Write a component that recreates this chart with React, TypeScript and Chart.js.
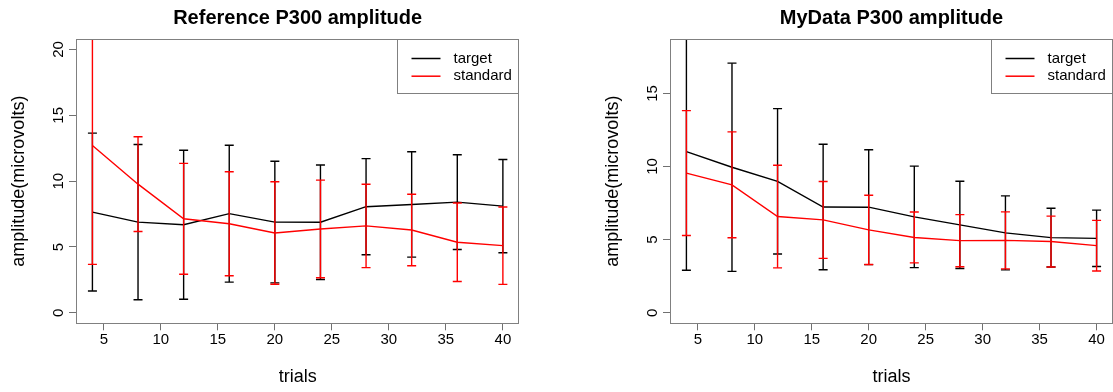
import React, { useEffect, useRef } from 'react';
import { Chart, registerables } from 'chart.js';

Chart.register(...registerables);

const FONT = "'Liberation Sans', Arial, Helvetica, sans-serif";

// shared x values and ticks
const trials = [4, 8, 12, 16, 20, 24, 28, 32, 36, 40];
const xTickValues = [5, 10, 15, 20, 25, 30, 35, 40];
const xLimits = [4, 40];

// Reference panel
const refTitle = 'Reference P300 amplitude';
const refYLimits = [0, 20];
const refYTicks = [0, 5, 10, 15, 20];
const refTargetMean = [7.65, 6.89, 6.69, 7.53, 6.89, 6.88, 8.06, 8.23, 8.41, 8.1];
const refTargetErr = [6.0, 5.9, 5.66, 5.2, 4.62, 4.35, 3.65, 4.0, 3.6, 3.54];
const refStandardMean = [12.71, 9.77, 7.14, 6.76, 6.06, 6.37, 6.6, 6.29, 5.36, 5.1];
const refStandardErr = [9.03, 3.6, 4.21, 3.95, 3.89, 3.71, 3.17, 2.72, 2.98, 2.94];

// MyData panel
const myTitle = 'MyData P300 amplitude';
const myYLimits = [0, 18];
const myYTicks = [0, 5, 10, 15];
const myTargetMean = [11.02, 9.95, 8.99, 7.23, 7.22, 6.56, 6.01, 5.46, 5.14, 5.09];
const myTargetErr = [8.11, 7.12, 4.97, 4.29, 3.93, 3.47, 2.98, 2.53, 2.01, 1.93];
const myStandardMean = [9.55, 8.75, 6.58, 6.35, 5.67, 5.15, 4.93, 4.95, 4.87, 4.59];
const myStandardErr = [4.27, 3.62, 3.51, 2.63, 2.37, 1.74, 1.78, 1.95, 1.74, 1.73];

const seriesNames = ['target', 'standard'];
const seriesColors = ['#000000', '#ff0000'];

function extend(lim: number[]) {
  const d = (lim[1] - lim[0]) * 0.04;
  return [lim[0] - d, lim[1] + d];
}

function meanPoints(means: number[]) {
  return trials.map((x, i) => ({ x, y: means[i] }));
}

function errorPoints(means: number[], errs: number[]) {
  const pts: any[] = [];
  trials.forEach((x, i) => {
    pts.push({ x, y: means[i] - errs[i] });
    pts.push({ x, y: means[i] + errs[i] });
    pts.push({ x, y: null });
  });
  return pts;
}

const boxPlugin = {
  id: 'rbox',
  afterDraw(chart: any) {
    const { ctx, chartArea: a } = chart;
    ctx.save();
    ctx.strokeStyle = '#808080';
    ctx.lineWidth = 1;
    ctx.strokeRect(Math.round(a.left) + 0.5, Math.round(a.top) + 0.5, Math.round(a.right - a.left) - 1, Math.round(a.bottom - a.top));
    ctx.restore();
  },
};

const rLegendPlugin = {
  id: 'rlegend',
  afterDraw(chart: any) {
    const { ctx, chartArea: a } = chart;
    const w = 121;
    const h = 54;
    const left = Math.round(a.right - w) - 0.5;
    const top = Math.round(a.top) + 0.5;
    ctx.save();
    ctx.fillStyle = '#ffffff';
    ctx.fillRect(left, top, w, h);
    ctx.strokeStyle = '#808080';
    ctx.lineWidth = 1;
    ctx.strokeRect(left, top, w, h);
    ctx.font = `15px ${FONT}`;
    ctx.textBaseline = 'middle';
    ctx.textAlign = 'left';
    seriesNames.forEach((name, i) => {
      const y = top + 19 + i * 17.7;
      ctx.strokeStyle = seriesColors[i];
      ctx.lineWidth = 1.5;
      ctx.beginPath();
      ctx.moveTo(left + 14, y);
      ctx.lineTo(left + 43, y);
      ctx.stroke();
      ctx.fillStyle = '#000';
      ctx.fillText(name, left + 56, y);
    });
    ctx.restore();
  },
};

type PanelProps = {
  title: string;
  yLimits: number[];
  yTicks: number[];
  targetMean: number[];
  targetErr: number[];
  standardMean: number[];
  standardErr: number[];
  width: number;
  padRight: number;
};

function Panel(p: PanelProps) {
  const ref = useRef<HTMLCanvasElement | null>(null);
  useEffect(() => {
    if (!ref.current) return;
    const xr = extend(xLimits);
    const yr = extend(p.yLimits);
    const gridCfg = { drawOnChartArea: false, drawTicks: true, tickLength: 7, color: '#707070', lineWidth: 1 };
    const mk = (data: any[], color: string, order: number, isErr: boolean, label: string) => ({
      type: 'line',
      label,
      data,
      borderColor: color,
      backgroundColor: color,
      borderWidth: 1.4,
      fill: false,
      tension: 0,
      spanGaps: false,
      order,
      pointStyle: isErr ? 'line' : 'circle',
      pointRadius: isErr ? 4.5 : 0,
      pointHoverRadius: isErr ? 4.5 : 0,
      pointBorderColor: color,
      pointBorderWidth: 1.4,
    });
    const chart = new Chart(ref.current, {
      type: 'line',
      data: {
        datasets: [
          mk(meanPoints(p.targetMean), seriesColors[0], 3, false, seriesNames[0]),
          mk(errorPoints(p.targetMean, p.targetErr), seriesColors[0], 2, true, seriesNames[0] + ' error'),
          mk(meanPoints(p.standardMean), seriesColors[1], 1, false, seriesNames[1]),
          mk(errorPoints(p.standardMean, p.standardErr), seriesColors[1], 0, true, seriesNames[1] + ' error'),
        ] as any,
      },
      options: {
        responsive: false,
        animation: false,
        events: [],
        layout: { autoPadding: false, padding: { left: 0, right: p.padRight, top: 0, bottom: 0 } },
        plugins: {
          legend: { display: false },
          tooltip: { enabled: false },
          title: {
            display: true,
            text: p.title,
            fullSize: false,
            color: '#000',
            font: { size: 20, weight: 'bold', family: FONT },
            padding: { top: 6, bottom: 9 },
          },
        },
        scales: {
          x: {
            type: 'linear',
            position: 'bottom',
            min: xr[0],
            max: xr[1],
            afterBuildTicks: (s: any) => {
              s.ticks = xTickValues.map((v) => ({ value: v }));
            },
            afterFit: (s: any) => {
              s.height = 68.7;
              s.paddingLeft = 0;
              s.paddingRight = 0;
            },
            grid: gridCfg,
            border: { display: false },
            ticks: {
              autoSkip: false,
              maxRotation: 0,
              minRotation: 0,
              padding: 1,
              color: '#000',
              font: { size: 15, family: FONT },
            },
            title: {
              display: true,
              text: 'trials',
              color: '#000',
              font: { size: 18, family: FONT },
              padding: { top: 0, bottom: 4.5 },
            },
          },
          y: {
            type: 'linear',
            position: 'left',
            min: yr[0],
            max: yr[1],
            afterBuildTicks: (s: any) => {
              s.ticks = p.yTicks.map((v) => ({ value: v }));
            },
            afterFit: (s: any) => {
              s.width = 76;
              s.paddingTop = 0;
              s.paddingBottom = 0;
            },
            grid: gridCfg,
            border: { display: false },
            ticks: {
              autoSkip: false,
              minRotation: 90,
              maxRotation: 90,
              crossAlign: 'center',
              padding: 2,
              color: '#000',
              font: { size: 15, family: FONT },
            },
            title: {
              display: true,
              text: 'amplitude(microvolts)',
              color: '#000',
              font: { size: 18, family: FONT },
              padding: { top: 8, bottom: 0 },
            },
          },
        },
      } as any,
      plugins: [boxPlugin, rLegendPlugin],
    });
    return () => chart.destroy();
  }, []);
  return <canvas ref={ref} width={p.width} height={392} style={{ display: 'block', width: p.width, height: 392 }} />;
}

export default function App() {
  return (
    <div style={{ position: 'fixed', left: 0, top: 0, width: 1113, height: 392, background: '#fff', overflow: 'hidden' }}>
      <div style={{ position: 'absolute', left: 0, top: 0 }}>
        <Panel
          title={refTitle}
          yLimits={refYLimits}
          yTicks={refYTicks}
          targetMean={refTargetMean}
          targetErr={refTargetErr}
          standardMean={refStandardMean}
          standardErr={refStandardErr}
          width={556}
          padRight={36.7}
        />
      </div>
      <div style={{ position: 'absolute', left: 594, top: 0 }}>
        <Panel
          title={myTitle}
          yLimits={myYLimits}
          yTicks={myYTicks}
          targetMean={myTargetMean}
          targetErr={myTargetErr}
          standardMean={myStandardMean}
          standardErr={myStandardErr}
          width={519}
          padRight={0}
        />
      </div>
    </div>
  );
}
